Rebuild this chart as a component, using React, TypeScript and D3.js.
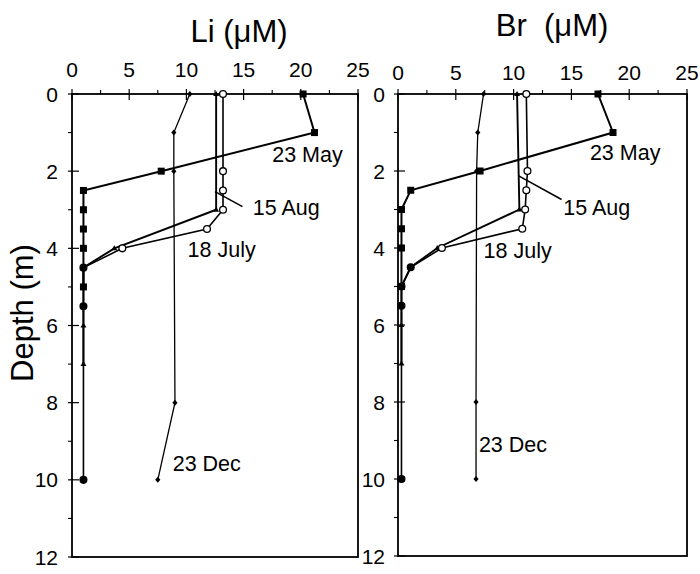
import React from 'react';
import * as d3 from 'd3';

const W = 700, H = 574;
const FONT = "'Liberation Sans', Arial, Helvetica, sans-serif";

// axis ticks
const xMajor = [0, 5, 10, 15, 20, 25];
const xMinor = [2.5, 7.5, 12.5, 17.5, 22.5];
const yMajor = [0, 2, 4, 6, 8, 10, 12];
const yMinor = [1, 3, 5, 7, 9, 11];

// Li panel
const liMayDepth = [0, 1, 2, 2.5, 3, 3.5, 4, 5];
const liMayVal = [20.2, 21.2, 7.8, 1.0, 1.0, 1.0, 1.0, 1.0];
const liJulDepth = [0, 2, 2.5, 3, 3.5, 4, 4.5, 5.5, 10];
const liJulVal = [13.2, 13.2, 13.2, 13.2, 11.8, 4.4, 1.0, 1.0, 1.0];
const liAugDepth = [0, 3, 4, 4.5, 6, 7];
const liAugVal = [12.6, 12.6, 3.7, 1.0, 1.0, 1.0];
const liDecDepth = [0, 1, 2, 8, 10];
const liDecVal = [10.3, 8.9, 8.9, 9.0, 7.5];

// Br panel
const brMayDepth = [0, 1, 2, 2.5, 3, 3.5, 4, 5];
const brMayVal = [17.3, 18.6, 7.1, 1.1, 0.3, 0.3, 0.3, 0.3];
const brJulDepth = [0, 2, 2.5, 3, 3.5, 4, 4.5, 5, 5.5, 10];
const brJulVal = [11.1, 11.2, 11.1, 11.0, 10.75, 3.8, 1.1, 0.3, 0.3, 0.3];
const brAugDepth = [0, 3, 4, 4.5, 5, 6, 7];
const brAugVal = [10.3, 10.5, 3.4, 1.1, 0.3, 0.3, 0.3];
const brDecDepth = [0, 1, 2, 8, 10];
const brDecVal = [7.4, 6.9, 6.8, 6.75, 6.75];

// series labels (text, value, depth of baseline)
const labelNames = ['23 May', '15 Aug', '18 July', '23 Dec'];
const liLabelVal = [17.5, 15.8, 10.1, 8.8];
const liLabelDepth = [1.76, 3.14, 4.22, 9.77];
const brLabelVal = [16.6, 14.3, 7.4, 7.0];
const brLabelDepth = [1.71, 3.14, 4.25, 9.3];
// 15 Aug leader line: [value0, depth0, value1, depth1]
const liLeader = [12.5, 2.53, 14.9, 2.92];
const brLeader = [10.4, 2.12, 14.15, 2.74];

type Series = { depth: number[]; val: number[]; kind: string; width: number };

function Marker({ kind, x, y, v }: { kind: string; x: number; y: number; v: number }) {
  if (kind === 'square') return <rect x={x - 3.5} y={y - 3.5} width={7} height={7} fill="#000" />;
  if (kind === 'circle')
    return <circle cx={x} cy={y} r={3.4} fill={v < 2 ? '#000' : '#fff'} stroke="#000" strokeWidth={1.3} />;
  if (kind === 'tri') return <path d={`M${x},${y - 3}L${x + 3},${y + 2}L${x - 3},${y + 2}Z`} fill="#000" />;
  return <path d={`M${x},${y - 3}L${x + 2.6},${y}L${x},${y + 3}L${x - 2.6},${y}Z`} fill="#000" />;
}

function Panel(props: {
  x0: number; x1: number; y0: number; y1: number;
  series: Series[]; title: string; titleX: number; titleY: number; tickLabelY: number;
  labelVal: number[]; labelDepth: number[]; leader: number[]; yLabelX: number;
}) {
  const { x0, x1, y0, y1, series } = props;
  const x = d3.scaleLinear().domain([0, 25]).range([x0, x1]);
  const y = d3.scaleLinear().domain([0, 12]).range([y0, y1]);
  const line = d3.line<[number, number]>().x(d => x(d[0])).y(d => y(d[1]));
  return (
    <g>
      <text x={props.titleX} y={props.titleY} fontSize={31} textAnchor="middle" fontFamily={FONT}
        style={{ whiteSpace: 'pre' }}>{props.title}</text>
      {xMajor.map(t => (
        <g key={'xm' + t}>
          <line x1={x(t)} x2={x(t)} y1={y0 - 5} y2={y0 + 6} stroke="#000" strokeWidth={1.2} />
          <text x={x(t)} y={props.tickLabelY} fontSize={21} textAnchor="middle" fontFamily={FONT}>{t}</text>
        </g>
      ))}
      {xMinor.map(t => (
        <line key={'xn' + t} x1={x(t)} x2={x(t)} y1={y0 - 4} y2={y0} stroke="#000" strokeWidth={1.1} />
      ))}
      {yMajor.map(t => (
        <g key={'ym' + t}>
          <line x1={x0 - 4} x2={x0 + 7} y1={y(t)} y2={y(t)} stroke="#000" strokeWidth={1.2} />
          <text x={props.yLabelX} y={y(t)} dy="0.36em" fontSize={21} textAnchor="end" fontFamily={FONT}>{t}</text>
        </g>
      ))}
      {yMinor.map(t => (
        <line key={'yn' + t} x1={x0 - 4} x2={x0} y1={y(t)} y2={y(t)} stroke="#000" strokeWidth={1.1} />
      ))}
      <rect x={x0} y={y0} width={x1 - x0} height={y1 - y0} fill="none" stroke="#000" strokeWidth={1.8} />
      {series.map((s, i) => {
        const pts = s.val.map((v, j) => [v, s.depth[j]] as [number, number]);
        return (
          <g key={'s' + i}>
            <path d={line(pts) || ''} fill="none" stroke="#000" strokeWidth={s.width} />
            {pts.map((p, j) => <Marker key={j} kind={s.kind} x={x(p[0])} y={y(p[1])} v={p[0]} />)}
          </g>
        );
      })}
      <line x1={x(props.leader[0])} y1={y(props.leader[1])} x2={x(props.leader[2])} y2={y(props.leader[3])}
        stroke="#000" strokeWidth={1.5} />
      {labelNames.map((n, i) => (
        <text key={n} x={x(props.labelVal[i])} y={y(props.labelDepth[i])} fontSize={21.5} fontFamily={FONT}>{n}</text>
      ))}
    </g>
  );
}

export default function App() {
  const liSeries: Series[] = [
    { depth: liDecDepth, val: liDecVal, kind: 'diamond', width: 1.3 },
    { depth: liAugDepth, val: liAugVal, kind: 'tri', width: 1.9 },
    { depth: liJulDepth, val: liJulVal, kind: 'circle', width: 1.6 },
    { depth: liMayDepth, val: liMayVal, kind: 'square', width: 2 },
  ];
  const brSeries: Series[] = [
    { depth: brDecDepth, val: brDecVal, kind: 'diamond', width: 1.3 },
    { depth: brAugDepth, val: brAugVal, kind: 'tri', width: 1.9 },
    { depth: brJulDepth, val: brJulVal, kind: 'circle', width: 1.6 },
    { depth: brMayDepth, val: brMayVal, kind: 'square', width: 2 },
  ];
  return (
    <svg width={W} height={H} style={{ position: 'absolute', left: 0, top: 0, background: '#fff' }}>
      <rect width={W} height={H} fill="#fff" />
      <text transform="translate(33,313) rotate(-90)" fontSize={31} textAnchor="middle" fontFamily={FONT}>Depth (m)</text>
      <Panel x0={72} x1={358} y0={94} y1={557} series={liSeries} title="Li (μM)" titleX={239} titleY={42}
        tickLabelY={77} labelVal={liLabelVal} labelDepth={liLabelDepth} leader={liLeader} yLabelX={58} />
      <Panel x0={398} x1={687} y0={94} y1={556} series={brSeries} title="Br  (μM)" titleX={552} titleY={36}
        tickLabelY={80} labelVal={brLabelVal} labelDepth={brLabelDepth} leader={brLeader} yLabelX={385} />
    </svg>
  );
}
